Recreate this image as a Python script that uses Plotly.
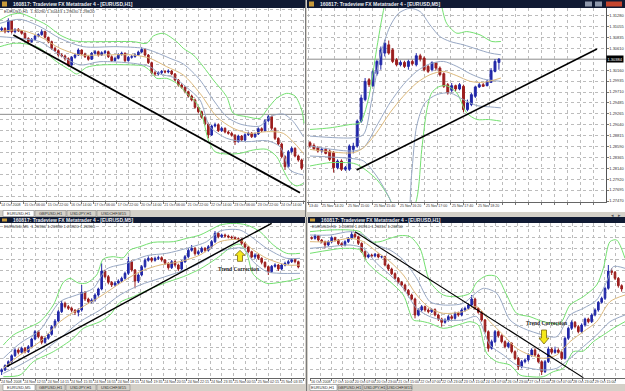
import plotly.graph_objects as go

# ====================== DATA ======================
# ---- Top-left: EURUSD,H1 (price levels in chart points) ----
tl_open = [510,515,505,538,505,512,508,500,485,475, 482,492,496,505,488,475,455,448,435,432,
           424,405,428,435,450,438,430,422,440,445, 435,442,445,430,418,425,437,440,418,428,
           430,435,444,452,435,412,382,378,382,386, 384,387,378,360,345,338,325,312,300,278,
           265,248,228,195,222,226,208,215,204,200, 194,175,192,180,196,200,190,198,214,208,
           238,250,215,185,168,130,100,145,155,132, 120]
tl_close = [515,505,538,505,512,508,500,485,475,482, 492,496,505,488,475,455,448,435,432,424,
            405,428,435,450,438,430,422,440,445,435, 442,445,430,418,425,437,440,418,428,430,
            435,444,452,435,412,382,378,382,386,384, 387,378,360,345,338,325,312,300,278,265,
            248,228,195,222,226,208,215,204,200,194, 175,192,180,196,200,190,198,214,208,238,
            250,215,185,168,130,100,145,155,132,120, 95]
tl_high = [520,518,545,540,515,516,510,503,488,486, 495,500,512,508,490,478,460,452,440,436,
           428,432,440,455,452,442,434,444,450,448, 446,450,448,434,430,440,445,443,432,435,
           440,448,458,455,438,415,388,386,390,390, 392,390,381,363,350,342,328,316,304,282,
           268,252,232,226,232,230,220,218,208,205, 198,196,195,200,205,204,202,218,218,242,
           255,253,218,188,172,134,150,160,158,136, 124]
tl_low = [505,500,502,500,500,504,496,482,470,472, 479,488,493,484,470,450,444,430,428,418,
          400,402,424,432,434,426,418,420,436,430, 432,438,426,414,415,422,433,414,415,424,
          427,432,440,430,408,378,372,374,378,380, 380,374,356,340,334,320,308,296,274,260,
          244,224,185,192,218,204,204,200,196,190, 165,172,176,177,192,186,186,195,204,205,
          234,210,180,164,125,90,96,140,128,115, 90]
tl_gu_x = [-0.5,2.5,5.5,9.5,13.5,17.5,21.5,24.5,29.5,39.5,43.5,45.5,48.5,52.5,54.5,57.5,60.5,63.5,67.5,69.5,73.5,77.5,79.5,82.5,85.5,88,90,90.7]
tl_gu_y = [540,555,560,545,525,495,478,475,475,475,470,492,500,475,455,435,400,360,310,260,250,245,270,305,320,312,270,230]
tl_gl_x = [-0.5,3.5,7.5,11.5,16.5,20.5,22.5,25.5,29.5,39.5,42.5,44.5,46.5,49.5,52.5,55.5,58.5,60.5,62,64,67.5,71.5,75.5,79.5,82.5,84.5,86.5,88.5,90.5]
tl_gl_y = [460,470,468,455,415,390,378,398,405,405,402,388,365,365,350,320,290,240,180,145,138,140,150,152,130,90,55,42,50]
tl_bu_x = [-0.5,5.5,11.5,17.5,24.5,34.5,42.5,46.5,50.5,54.5,59.5,63.5,67.5,71.5,77.5,80.5,84.5,87.5,90.5]
tl_bu_y = [530,542,520,485,460,460,455,442,425,408,360,300,250,228,222,250,258,235,190]
tl_bl_x = [-0.5,5.5,11.5,17.5,23.5,29.5,39.5,44.5,47.5,51.5,55.5,59.5,62.5,67.5,73.5,79.5,83.5,86.5,90.5]
tl_bl_y = [490,485,475,435,405,415,410,400,378,368,338,300,220,185,175,178,160,90,75]
tl_ma_x = [-0.5,5.5,11.5,17.5,23.5,29.5,39.5,44.5,49.5,54.5,59.5,64.5,69.5,74.5,79.5,84.5,90.5]
tl_ma_y = [505,510,490,455,435,435,435,425,400,375,320,250,215,200,205,200,140]
tl_trend_x = [3.5, 89.5]
tl_trend_y = [495, 22]
tl_bid = 257
tl_labels = ["14 Oct 2008","15 Oct 06:00","15 Oct 22:00","16 Oct 14:00","17 Oct 06:00","17 Oct 22:00",
             "20 Oct 14:00","21 Oct 06:00","21 Oct 22:00","22 Oct 14:00","23 Oct 06:00","23 Oct 22:00","24 Oct 14:00"]

# ---- Top-right: EURUSD,M5 (prices) ----
tr_open = [1.28667,1.28613,1.28565,1.28497,1.28531,1.28497,1.28463,1.28156,1.28292,1.28122,
           1.28122,1.28531,1.28599,1.29111,1.29554,1.29963,1.29840,1.30086,1.30270,1.30509,
           1.30679,1.30577,1.30372,1.30270,1.30318,1.30236,1.30338,1.30270,1.30454,1.30407,
           1.30236,1.30168,1.30304,1.30202,1.30086,1.29861,1.29745,1.29840,1.29772,1.29827,
           1.29349,1.29452,1.29622,1.29813,1.29861,1.29840,1.29909,1.30134,1.30318]
tr_close = [1.28599,1.28545,1.28497,1.28531,1.28449,1.28326,1.28156,1.28292,1.28122,1.28156,
            1.28599,1.28599,1.29111,1.29588,1.29929,1.29861,1.30134,1.30338,1.30577,1.30713,
            1.30509,1.30338,1.30270,1.30318,1.30236,1.30338,1.30291,1.30454,1.30386,1.30168,
            1.30134,1.30318,1.30202,1.30066,1.29827,1.29690,1.29840,1.29772,1.29861,1.29349,
            1.29486,1.29656,1.29813,1.29861,1.29827,1.29929,1.30154,1.30338,1.30384]
tr_high = [1.28701,1.28654,1.28599,1.28565,1.28565,1.28531,1.28497,1.28326,1.28326,1.28190,
           1.28633,1.28667,1.29145,1.29656,1.29997,1.29997,1.30168,1.30372,1.30645,1.30782,
           1.30768,1.30611,1.30407,1.30359,1.30352,1.30372,1.30372,1.30509,1.30495,1.30441,
           1.30270,1.30338,1.30318,1.30236,1.30113,1.29895,1.29895,1.29861,1.29895,1.29861,
           1.29554,1.29690,1.29840,1.29895,1.29895,1.29963,1.30202,1.30386,1.30407]
tr_low = [1.28565,1.28517,1.28463,1.28463,1.28429,1.28292,1.28054,1.28122,1.28088,1.28088,
          1.28088,1.28449,1.28565,1.29077,1.29520,1.29813,1.29813,1.30045,1.30168,1.30441,
          1.30475,1.30304,1.30236,1.30236,1.30202,1.30168,1.30250,1.30236,1.30338,1.30134,
          1.30100,1.30134,1.30154,1.30031,1.29793,1.29656,1.29704,1.29725,1.29745,1.29295,
          1.29315,1.29418,1.29588,1.29793,1.29813,1.29827,1.29895,1.30113,1.30168]
tr_gu_x = [0,5.1,10.2,12.7,14.8,16.9,18.2,19.3,26,33,34.7,37.3,39.8,43.2,46.2,48.5]
tr_gu_y = [1.28940,1.28974,1.29043,1.29077,1.29554,1.30577,1.31191,1.31600,1.33000,1.31600,1.31123,1.30918,1.30952,1.30884,1.30748,1.30748]
tr_gl_x = [0,5.1,11,12.7,16.9,20.3,23.7,27.1,28.4,29.7,30.9,32.6,34.7,37.3,39.8,42.4,45.3,48.5]
tr_gl_y = [1.28190,1.28258,1.28245,1.28190,1.27917,1.27508,1.26830,1.27508,1.28531,1.29349,1.29690,1.29813,1.29840,1.29690,1.29281,1.29145,1.29145,1.29111]
tr_bu_x = [0,11,13.6,15.7,17.8,20.3,22.5,25.4,28,30.5,33,35.6,39,42.4,45.8,48.5]
tr_bu_y = [1.28804,1.28770,1.28838,1.29554,1.30441,1.31054,1.31327,1.31430,1.31361,1.31088,1.30850,1.30748,1.30679,1.30591,1.30509,1.30475]
tr_bl_x = [0,11,13.6,16.9,20.3,22.5,24.5,25.8,27.1,29.2,32.2,35.6,39,42.4,45.8,48.5]
tr_bl_y = [1.28395,1.28340,1.28292,1.27985,1.27508,1.27000,1.27000,1.28000,1.29008,1.29486,1.29656,1.29690,1.29554,1.29431,1.29404,1.29384]
tr_mid_x = [0,11,13.6,16.9,20.3,23.7,27.1,30.5,33.9,37.3,40.7,44.1,48.5]
tr_mid_y = [1.28599,1.28497,1.28565,1.29008,1.29486,1.29861,1.30134,1.30291,1.30338,1.30236,1.30086,1.29977,1.29929]
tr_ma_x = [0,11,13.6,16.9,20.3,23.7,27.1,30.5,33.9,37.3,40.7,44.1,48.5]
tr_ma_y = [1.28531,1.28463,1.28565,1.28872,1.29281,1.29622,1.29895,1.30066,1.30134,1.30045,1.29929,1.29909,1.29997]
tr_trend_x = [11.85, 72.9]
tr_trend_y = [1.28109, 1.30592]
tr_last = 1.30384
tr_price_ticks = [1.31280,1.31055,1.30835,1.30610,1.30160,1.29935,1.29710,1.29485,1.29265,
                  1.29040,1.28815,1.28590,1.28365,1.28140,1.27920,1.27695,1.27470]
tr_time_labels = ["13:40","25 Nov 14:20","","25 Nov 15:00","","25 Nov 15:40","","25 Nov 16:20","",
                  "25 Nov 17:00","","25 Nov 17:40","","25 Nov 18:20"]

# ---- Bottom-left: EURUSD,M5 ----
bl_open = [70,75,88,100,118,135,128,140,130,145, 168,190,175,158,170,182,205,222,250,275,
           265,260,254,248,255,308,288,280,285,300, 318,372,355,338,330,336,342,350,365,400,
           375,342,360,385,404,410,404,410,412,405, 395,382,400,390,378,400,415,434,440,424,
           430,440,434,445,460,485,475,480,477,474, 472,469,467,455,444,430,414,420,410,398,
           385,370,386,390,378,390,395,400,406,400]
bl_close = [75,88,100,118,135,128,140,130,145,168, 190,175,158,170,182,205,222,250,275,265,
            260,254,248,255,308,288,280,285,300,318, 372,355,338,330,336,342,350,365,400,375,
            342,360,385,404,410,404,410,412,405,395, 382,400,390,378,400,415,434,440,424,430,
            440,434,445,460,485,475,480,477,474,472, 469,467,455,444,430,414,420,410,398,385,
            370,386,390,378,390,395,400,406,400,384]
bl_high = [80,92,104,122,140,140,145,144,150,172, 195,194,178,175,186,210,228,255,282,280,
           270,265,258,260,330,312,292,290,305,322, 395,376,360,342,340,347,355,370,415,404,
           378,365,390,410,416,414,415,418,416,408, 398,405,404,394,405,420,440,450,444,435,
           445,444,450,465,492,488,484,484,481,478, 476,473,470,458,447,433,425,424,413,401,
           388,390,395,393,394,400,405,410,410,403]
bl_low = [60,72,84,96,114,122,124,125,126,140, 164,170,152,154,166,178,200,218,246,260,
          255,248,240,236,250,282,274,275,280,295, 314,350,332,324,325,332,338,346,360,370,
          320,336,356,380,400,398,400,405,400,390, 376,378,385,372,374,396,410,430,418,420,
          426,428,430,440,456,470,471,472,470,468, 465,462,450,440,425,410,408,405,392,380,
          360,366,382,372,374,386,391,396,395,380]
bl_gu_x = [0.5,3.5,7.5,11.5,15.5,18.5,20.5,23,25.5,28.5,30.5,33.5,36.5,38.5,41.5,45.5,51.5,55.5,59.5,63.5,65.5,69.5,73.5,77.5,81.5,85.5,89.5]
bl_gu_y = [150,180,200,220,270,338,350,336,336,360,408,415,412,435,445,458,460,470,480,500,510,515,510,490,450,425,425]
bl_gl_x = [0.5,5.5,9.5,15.5,21.5,24.5,29.5,32.5,35.5,39.5,44.5,49.5,54.5,59.5,64.5,69.5,71.5,73.5,75.5,79.5,83.5,87.5,89.5]
bl_gl_y = [55,60,100,130,170,200,220,240,278,295,318,338,355,378,410,448,452,425,362,335,338,345,350]
bl_bu_x = [0.5,5.5,11.5,17.5,22.5,27.5,31.5,37.5,43.5,49.5,55.5,61.5,65.5,71.5,75.5,79.5,85.5,89.5]
bl_bu_y = [110,155,195,280,300,320,378,395,418,425,440,460,492,495,470,440,410,410]
bl_bl_x = [0.5,5.5,11.5,17.5,23.5,29.5,35.5,41.5,47.5,53.5,59.5,65.5,69.5,72.5,75.5,79.5,83.5,89.5]
bl_bl_y = [65,90,125,170,220,255,300,330,350,370,395,430,440,440,400,370,365,365]
bl_ma_x = [0.5,5.5,11.5,17.5,23.5,29.5,35.5,41.5,47.5,53.5,59.5,65.5,71.5,75.5,79.5,85.5,89.5]
bl_ma_y = [80,120,160,220,260,295,335,370,390,400,420,460,465,435,410,390,390]
bl_trend_x = [1.5, 81]
bl_trend_y = [85, 515]
bl_labels = ["24 Nov 2008","24 Nov 12:55","24 Nov 14:15","24 Nov 15:35","24 Nov 16:55","24 Nov 18:15",
             "24 Nov 19:35","24 Nov 20:55","24 Nov 22:15","24 Nov 23:35","25 Nov 00:55","25 Nov 02:15","25 Nov 03:35"]

# ---- Bottom-right: EURUSD,H1 ----
br_open = [472,470,478,465,460,450,460,472,465,454, 450,460,470,482,475,455,430,414,420,417,
           422,414,415,390,378,364,350,338,330,314, 300,288,240,255,265,255,250,256,240,228,
           218,225,235,230,245,240,255,260,270,288, 260,248,225,190,140,160,190,178,160,145,
           155,130,110,85,100,105,120,135,120,100, 70,100,138,128,135,128,110,170,200,218,
           205,190,210,228,220,240,255,278,290,320, 372,368,350,328]
br_close = [470,478,465,460,450,460,472,465,454,450, 460,470,482,475,455,430,414,420,417,422,
            414,415,390,378,364,350,338,330,314,300, 288,240,255,265,255,250,256,240,228,218,
            225,235,230,245,240,255,260,270,288,260, 248,225,190,140,160,190,178,160,145,155,
            130,110,85,100,105,120,135,120,100,70, 100,138,128,135,128,110,170,200,218,205,
            190,210,228,220,240,255,278,290,320,372, 368,350,328,318]
br_high = [476,482,480,468,463,464,476,475,468,458, 464,474,490,486,478,458,434,425,424,426,
           425,419,418,394,382,368,354,342,334,318, 304,292,260,270,268,260,260,260,244,232,
           230,240,240,250,250,260,265,275,300,292, 264,252,228,194,166,195,194,182,164,160,
           158,134,114,105,110,125,140,140,124,104, 105,145,142,145,140,132,175,205,224,222,
           210,215,232,232,245,260,282,295,325,390, 380,372,354,332]
br_low = [466,466,460,455,440,446,456,460,450,445, 446,456,466,470,450,426,408,410,412,413,
          410,410,386,372,360,346,334,325,310,296, 284,230,236,250,250,245,246,236,222,205,
          214,220,226,226,235,236,250,256,266,255, 244,220,185,130,136,156,172,155,140,140,
          125,105,75,80,95,100,115,115,95,60, 66,96,122,124,124,105,106,165,195,200,
          185,186,205,215,216,236,250,274,285,316, 360,345,322,310]
br_gu_x = [-0.5,5.5,11.5,14.5,17.5,20.5,23.5,26.5,29.5,32.5,35.5,39.5,43.5,47.5,49.5,52.5,55.5,58.5,61.5,65.5,69.5,74.5,77.5,81.5,85.5,87.5,89.5,91.5,94]
br_gu_y = [490,495,495,490,460,460,470,478,475,440,340,300,295,305,338,358,355,300,245,235,220,215,270,295,330,380,460,465,410]
br_gl_x = [-0.5,5.5,9.5,14.5,16.5,19.5,23.5,27.5,30.5,32.5,35.5,39.5,44.5,47.5,50,52.5,55.5,59.5,62.5,65.5,69.5,72.5,75.5,78.5,81.5,84.5,87.5,90.5,94]
br_gl_y = [425,435,440,435,400,370,340,300,225,222,215,200,212,220,210,125,100,90,60,55,55,70,80,130,132,160,180,200,220]
br_bu_x = [-0.5,5.5,11.5,15.5,19.5,23.5,27.5,31.5,35.5,39.5,45.5,48.5,51.5,55.5,59.5,63.5,69.5,73.5,77.5,81.5,85.5,88.5,90.5,94]
br_bu_y = [480,480,490,480,450,435,405,350,280,270,275,300,320,305,225,200,180,175,240,260,285,340,385,380]
br_bl_x = [-0.5,5.5,11.5,15.5,19.5,23.5,27.5,31.5,35.5,39.5,45.5,49.5,53.5,57.5,61.5,65.5,69.5,73.5,77.5,81.5,85.5,89.5,94]
br_bl_y = [440,445,450,440,395,360,320,260,235,225,225,235,150,120,90,80,75,80,110,145,180,220,240]
br_ma_x = [-0.5,5.5,11.5,15.5,19.5,23.5,27.5,31.5,35.5,39.5,45.5,49.5,53.5,57.5,61.5,65.5,69.5,73.5,77.5,81.5,85.5,89.5,94]
br_ma_y = [460,460,470,460,430,400,360,300,260,245,250,265,220,180,140,120,110,120,160,190,220,280,300]
br_trend_x = [13, 81.5]
br_trend_y = [490, 52]
br_labels = ["16 Oct 2008","17 Oct 10:00","20 Oct 07:00","20 Oct 23:00","21 Oct 15:00","22 Oct 07:00",
             "22 Oct 23:00","23 Oct 15:00","24 Oct 07:00","26 Oct 23:00","27 Oct 15:00","28 Oct 07:00",
             "28 Oct 23:00","29 Oct 15:00","30 Oct 07:00"]

# ====================== STYLE / LAYOUT ======================
W, H = 625, 391
def fx(p): return p / W
def fy(p): return 1 - p / H

INC, DEC = '#2228a8', '#9c1e1e'
GREEN, GRAY, TAN = '#74e070', '#98a8c4', '#dcb87a'
GRID = '#bcbcbc'
FONT = 'Liberation Sans'

fig = go.Figure()

def add_panel(n, o, h, l, c, bands, trend, trend_w):
    xa = 'x' if n == 1 else f'x{n}'
    ya = 'y' if n == 1 else f'y{n}'
    for bx, by, col in bands:
        fig.add_trace(go.Scatter(x=bx, y=by, mode='lines', xaxis=xa, yaxis=ya, hoverinfo='skip',
                                 line=dict(color=col, width=1, shape='spline', smoothing=0.8)))
    fig.add_trace(go.Candlestick(x=list(range(len(o))), open=o, high=h, low=l, close=c,
                                 xaxis=xa, yaxis=ya, whiskerwidth=0,
                                 increasing=dict(line=dict(color=INC, width=1), fillcolor=INC),
                                 decreasing=dict(line=dict(color=DEC, width=1), fillcolor=DEC)))
    fig.add_trace(go.Scatter(x=trend[0], y=trend[1], mode='lines', xaxis=xa, yaxis=ya,
                             line=dict(color='black', width=trend_w), hoverinfo='skip'))

add_panel(1, tl_open, tl_high, tl_low, tl_close,
          [(tl_gu_x, tl_gu_y, GREEN), (tl_gl_x, tl_gl_y, GREEN), (tl_bu_x, tl_bu_y, GRAY),
           (tl_bl_x, tl_bl_y, GRAY), (tl_ma_x, tl_ma_y, TAN)], (tl_trend_x, tl_trend_y), 1.8)
add_panel(2, tr_open, tr_high, tr_low, tr_close,
          [(tr_gu_x, tr_gu_y, GREEN), (tr_gl_x, tr_gl_y, GREEN), (tr_bu_x, tr_bu_y, GRAY),
           (tr_bl_x, tr_bl_y, GRAY), (tr_mid_x, tr_mid_y, GRAY), (tr_ma_x, tr_ma_y, TAN)],
          (tr_trend_x, tr_trend_y), 1.6)
add_panel(3, bl_open, bl_high, bl_low, bl_close,
          [(bl_gu_x, bl_gu_y, GREEN), (bl_gl_x, bl_gl_y, GREEN), (bl_bu_x, bl_bu_y, GRAY),
           (bl_bl_x, bl_bl_y, GRAY), (bl_ma_x, bl_ma_y, TAN)], (bl_trend_x, bl_trend_y), 1.4)
add_panel(4, br_open, br_high, br_low, br_close,
          [(br_gu_x, br_gu_y, GREEN), (br_gl_x, br_gl_y, GREEN), (br_bu_x, br_bu_y, GRAY),
           (br_bl_x, br_bl_y, GRAY), (br_ma_x, br_ma_y, TAN)], (br_trend_x, br_trend_y), 1.1)

def grid_ticks(start, step, count, labels, every):
    vals, texts = [], []
    for j in range(count):
        vals.append(start + step * j)
        k = j // every
        texts.append(labels[k] if (j % every == 0 and k < len(labels)) else '')
    return vals, texts

tl_tv, tl_tt = grid_ticks(-0.5, 3.5, 27, tl_labels, 2)
bl_tv, bl_tt = grid_ticks(-0.5, 3.5, 27, bl_labels, 2)
br_tv, br_tt = grid_ticks(-0.5, 3.275, 30, br_labels, 2)
tr_tv = [-0.5 + 3.3 * j for j in range(24)]
tr_tt = tr_time_labels + [''] * (len(tr_tv) - len(tr_time_labels))

xtickfont = dict(size=3.6, color='#333', family=FONT)
ytickfont = dict(size=4.0, color='#333', family=FONT)

def xcfg(dom, rng, tv, tt, anchor):
    return dict(domain=dom, range=rng, anchor=anchor, tickmode='array', tickvals=tv, ticktext=tt,
                tickangle=0, automargin=False,
                ticklabelposition='outside right', tickfont=xtickfont, ticks='outside', ticklen=2,
                tickcolor='#777', showgrid=True, gridcolor=GRID, griddash='dot', gridwidth=1,
                zeroline=False, showline=True, linecolor='#666', linewidth=1,
                rangeslider=dict(visible=False), fixedrange=True)

def ycfg(dom, rng, anchor, dtick=33, tick0=10):
    return dict(domain=dom, range=rng, anchor=anchor, showticklabels=False, ticks='',
                dtick=dtick, tick0=tick0, showgrid=True, gridcolor=GRID, griddash='dot',
                gridwidth=1, zeroline=False, fixedrange=True, automargin=False)

TL_DOM_X, TL_DOM_Y = [0, fx(305)], [fy(201), fy(8)]
TR_DOM_X, TR_DOM_Y = [fx(307), fx(606)], [fy(202), fy(8)]
BL_DOM_X, BL_DOM_Y = [0, fx(305)], [fy(378), fy(223)]
BR_DOM_X, BR_DOM_Y = [fx(310), 1.0], [fy(378), fy(223)]

y2 = ycfg(TR_DOM_Y, [1.2745, 1.31436], 'x2')
y2.update(dict(showticklabels=True, side='right', tickmode='array', tickvals=tr_price_ticks,
               ticktext=[f'{v:.5f}' for v in tr_price_ticks], tickfont=ytickfont, ticks='outside',
               ticklen=1.5, tickcolor='#777', showline=True, linecolor='#555', linewidth=1))

fig.update_layout(
    width=W, height=H, autosize=False, margin=dict(l=0, r=0, t=0, b=0),
    paper_bgcolor='#d4d0c8', plot_bgcolor='white', showlegend=False,
    xaxis=xcfg(TL_DOM_X, [-0.5, 91], tl_tv, tl_tt, 'y'),
    yaxis=ycfg(TL_DOM_Y, [-3, 576], 'x'),
    xaxis2=xcfg(TR_DOM_X, [-0.76, 75.2], tr_tv, tr_tt, 'y2'),
    yaxis2=y2,
    xaxis3=xcfg(BL_DOM_X, [-0.5, 91], bl_tv, bl_tt, 'y3'),
    yaxis3=ycfg(BL_DOM_Y, [51, 516], 'x3'),
    xaxis4=xcfg(BR_DOM_X, [-0.5, 94], br_tv, br_tt, 'y4'),
    yaxis4=ycfg(BR_DOM_Y, [51, 516], 'x4'),
)

shapes, annos = [], []

def rect(x0, y0, x1, y1, fill, line=None, lw=0, layer='below'):
    shapes.append(dict(type='rect', xref='paper', yref='paper', x0=fx(x0), x1=fx(x1),
                       y0=fy(y1), y1=fy(y0), fillcolor=fill, layer=layer,
                       line=dict(color=line or fill, width=lw)))

def text(x, y, s, size=5, color='#222', anchor='left', bold=False, family=FONT, bg=None):
    annos.append(dict(xref='paper', yref='paper', x=fx(x), y=fy(y), text=(f'<b>{s}</b>' if bold else s),
                      showarrow=False, xanchor=anchor, yanchor='middle',
                      font=dict(size=size, color=color, family=family), bgcolor=bg, borderpad=0))

# white label areas
rect(0, 8, 305, 210, 'white')
rect(307, 8, 625, 212, 'white')
rect(0, 223, 305, 384, 'white')
rect(308, 223, 625, 384, 'white')

# title bars
TITLE = '160817: Tradeview FX Metatrader 4 - '
for (x0, y0, x1, y1, sym) in [(0, 0, 305, 8, '[EURUSD,H1]'), (307, 0, 625, 8, '[EURUSD,M5]'),
                              (0, 217, 305, 223, '[EURUSD,M5]'), (308, 217, 625, 223, '[EURUSD,H1]')]:
    rect(x0, y0, x1, y1, '#101a33', layer='above')
    rect(x0 + 2, y0 + 1.5, x0 + 7, y1 - 1.5, '#c89a3a', layer='above')
    text(x0 + 12, (y0 + y1) / 2, TITLE + sym, size=5, color='#e8ecf4', bold=True)

# window buttons (top-right)
rect(585, 1.5, 592, 6.5, '#8e98ac', layer='above')
rect(595, 1.5, 602, 6.5, '#8e98ac', layer='above')
rect(606, 1.5, 622, 6.5, '#c4452e', layer='above')

# info lines
text(3, 11, 'EURUSD,H1  1.30290 1.30443 1.29630 1.29820', size=4.2, color='#333')
text(3, 226.5, 'EURUSD,M5  1.26960 1.26980 1.26920 1.26960', size=4.2, color='#333')
text(311, 226.5, 'EURUSD,H1  1.26896 1.26910 1.26810 1.26850', size=4.2, color='#333')

# tab strips
def tabs(y0, y1, starts, widths, labels):
    for i, (s, w, lab) in enumerate(zip(starts, widths, labels)):
        rect(s, y0, s + w, y1, 'white' if i == 0 else '#d4d0c8', line='#8a8a8a', lw=0.6, layer='above')
        text(s + w / 2, (y0 + y1) / 2, lab, size=4.0, color='#333', anchor='center')

tabs(210.5, 216.5, [3, 35, 67, 97], [31, 31, 29, 33], ['EURUSD,H1', 'GBPUSD,H1', 'USDJPY,H1', 'USDCHF,M15'])
tabs(384.5, 390.5, [3, 36, 66, 97], [32, 29, 30, 33], ['EURUSD,M5', 'GBPUSD,H1', 'USDJPY,H1', 'USDCHF,M15'])
tabs(384.5, 390.5, [310, 338, 363, 387], [27, 24, 23, 25], ['EURUSD,H1', 'GBPUSD,H1', 'USDJPY,H1', 'USDCHF,M15'])

# TR bottom strip with scroll arrows
text(612, 215, '◂', size=5, color='#555', anchor='center')
text(619, 215, '▸', size=5, color='#555', anchor='center')

# separators
shapes.append(dict(type='line', xref='paper', yref='paper', x0=fx(305.5), x1=fx(305.5), y0=fy(217), y1=1,
                   line=dict(color='#7a7a7a', width=1), layer='above'))
shapes.append(dict(type='line', xref='paper', yref='paper', x0=fx(306.5), x1=fx(306.5), y0=0, y1=fy(217),
                   line=dict(color='#7a7a7a', width=1), layer='above'))

# bid / last price lines
shapes.append(dict(type='line', xref='x domain', yref='y', x0=0, x1=1, y0=tl_bid, y1=tl_bid,
                   line=dict(color='#8c8c8c', width=1), layer='below'))
shapes.append(dict(type='line', xref='x2 domain', yref='y2', x0=0, x1=1, y0=tr_last, y1=tr_last,
                   line=dict(color='#8c8c8c', width=1), layer='below'))
annos.append(dict(xref='x2 domain', yref='y2', x=1.0, y=tr_last, text=f'{tr_last:.5f}', showarrow=False,
                  xanchor='left', yanchor='middle', bgcolor='black', borderpad=0.5,
                  font=dict(size=4.0, color='white', family=FONT)))

# yellow arrows + "Trend Correction" notes
ARROW_UP = 'M0,6 L5,1 L2.5,1 L2.5,-5 L-2.5,-5 L-2.5,1 L-5,1 Z'
ARROW_DN = 'M0,-7 L5,-1 L2.5,-1 L2.5,7 L-2.5,7 L-2.5,-1 L-5,-1 Z'
shapes.append(dict(type='path', xref='x3', yref='y3', xsizemode='pixel', ysizemode='pixel',
                   xanchor=71.5, yanchor=416, path=ARROW_UP, fillcolor='#f4e81c',
                   line=dict(color='#7a6a10', width=0.8), layer='above'))
shapes.append(dict(type='path', xref='x4', yref='y4', xsizemode='pixel', ysizemode='pixel',
                   xanchor=69.7, yanchor=174, path=ARROW_DN, fillcolor='#f4e81c',
                   line=dict(color='#7a6a10', width=0.8), layer='above'))
annos.append(dict(xref='x3', yref='y3', x=71, y=378, text='<b>Trend Correction</b>', showarrow=False,
                  font=dict(size=5.5, color='#222', family='Liberation Serif')))
annos.append(dict(xref='x4', yref='y4', x=70.5, y=215, text='<b>Trend Correction</b>', showarrow=False,
                  font=dict(size=5.5, color='#222', family='Liberation Serif')))

fig.update_layout(shapes=shapes, annotations=annos)
fig.write_html('out.html')
